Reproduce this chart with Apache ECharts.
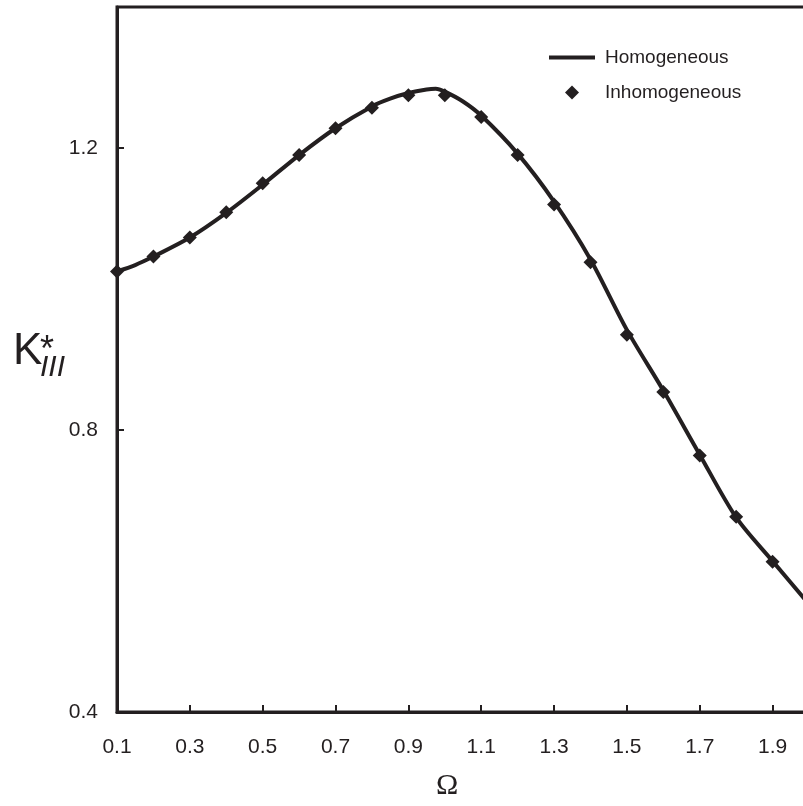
<!DOCTYPE html>
<html>
<head>
<meta charset="utf-8">
<script src="https://cdn.jsdelivr.net/npm/echarts@6/dist/echarts.min.js"></script>
<style>
html,body{margin:0;padding:0;background:#fff;}
#chart{width:803px;height:806px;}
</style>
</head>
<body>
<div id="chart"></div>
<script>
// Homogeneous (solid curve)
var homX = [0.1, 0.15, 0.2, 0.3, 0.4, 0.5, 0.6, 0.7, 0.8, 0.85, 0.9, 0.95, 0.975, 1.0, 1.05, 1.1, 1.2, 1.3, 1.4, 1.5, 1.6, 1.7, 1.8, 1.9, 2.0];
var homY = [1.025, 1.034, 1.046, 1.073, 1.108, 1.148, 1.190, 1.228, 1.259, 1.270, 1.278, 1.283, 1.284, 1.280, 1.266, 1.246, 1.192, 1.124, 1.042, 0.942, 0.856, 0.765, 0.676, 0.614, 0.553];
// Inhomogeneous (diamond markers)
var inhX = [0.1, 0.2, 0.3, 0.4, 0.5, 0.6, 0.7, 0.8, 0.9, 1.0, 1.1, 1.2, 1.3, 1.4, 1.5, 1.6, 1.7, 1.8, 1.9];
var inhY = [1.025, 1.046, 1.073, 1.109, 1.150, 1.190, 1.228, 1.257, 1.275, 1.275, 1.244, 1.190, 1.120, 1.038, 0.935, 0.854, 0.764, 0.677, 0.613];
// Axis settings
var xMin = 0.1, xMax = 2.0, xStep = 0.2;
var yMin = 0.4, yMax = 1.4, yStep = 0.4;
var seriesNames = ['Homogeneous', 'Inhomogeneous'];

var ink = '#231f20';
var font = '"Liberation Sans", Arial, sans-serif';

function pairs(xs, ys){ return xs.map(function(x,i){ return [x, ys[i]]; }); }

var chart = echarts.init(document.getElementById('chart'), null, {renderer:'canvas'});
chart.setOption({
  backgroundColor: '#ffffff',
  animation: false,
  grid: { left: 117, top: 7, width: 692, height: 705, outerBoundsMode: 'none', containLabel: false,
    show: true, borderColor: ink, borderWidth: 3, backgroundColor: 'transparent' },
  legend: {
    orient: 'vertical', left: 544, top: 43,
    itemWidth: 46, itemHeight: 14, itemGap: 16,
    textStyle: { fontFamily: font, fontSize: 19, color: ink, padding: [0,0,0,5] },
    data: [
      { name: seriesNames[0], icon: 'path://M0,0H46V4H0Z', itemStyle: { color: ink, opacity: 1 } },
      { name: seriesNames[1], icon: 'path://M7,0L14,7L7,14L0,7Z', itemStyle: { color: ink, opacity: 1 } }
    ]
  },
  xAxis: {
    type: 'value', min: xMin, max: xMax, interval: xStep,
    axisLine: { show: true, lineStyle: { color: ink, width: 3 } },
    axisTick: { show: true, inside: true, length: 7, lineStyle: { color: ink, width: 2 } },
    splitLine: { show: false },
    axisLabel: { showMaxLabel: false, margin: 24, fontFamily: font, fontSize: 21, color: ink, lineHeight: 22,
      formatter: function(v){ return (v > 1.95) ? '' : v.toFixed(1); } }
  },
  yAxis: {
    type: 'value', min: yMin, max: yMax, interval: yStep,
    axisLine: { show: true, lineStyle: { color: ink, width: 3 } },
    axisTick: { show: true, inside: true, length: 7, lineStyle: { color: ink, width: 2 } },
    splitLine: { show: false },
    axisLabel: { showMaxLabel: false, margin: 19, fontFamily: font, fontSize: 21, color: ink,
      formatter: function(v){ return (v > 1.35) ? '' : v.toFixed(1); } }
  },
  graphic: [
    { type: 'text', left: 13, top: 330, style: { text: 'K', font: '44px ' + font, fill: ink } },
    { type: 'text', left: 40, top: 333, style: { text: '*', font: '36px ' + font, fill: ink } },
    { type: 'text', left: 40, top: 353, style: { text: 'III', font: 'italic 30px ' + font, fill: ink } },
    { type: 'text', left: 436, top: 771, style: { text: 'Ω', font: '30px "Liberation Serif", "Times New Roman", serif', fill: ink } }
  ],
  series: [
    { name: seriesNames[0], type: 'line', data: pairs(homX, homY), smooth: 0.3, showSymbol: false, symbol: 'none',
      lineStyle: { color: ink, width: 4 }, itemStyle: { color: ink }, z: 2 },
    { name: seriesNames[1], type: 'scatter', data: pairs(inhX, inhY), symbol: 'diamond', symbolSize: 14,
      itemStyle: { color: ink, opacity: 1 }, z: 3 }
  ]
});
</script>
</body>
</html>
